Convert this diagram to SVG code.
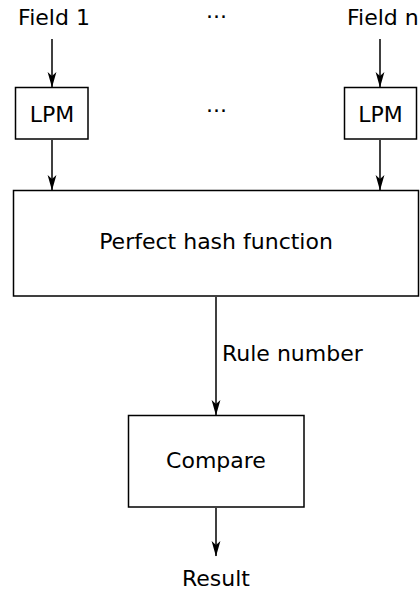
<svg xmlns="http://www.w3.org/2000/svg" width="420" height="591" viewBox="0 0 420 591">
<style>
.box{fill:#fff;stroke:#000;stroke-width:1.5}
.t{font-family:"DejaVu Sans",sans-serif;font-size:22px;fill:#000}
.c{text-anchor:middle}
.ln{stroke:#000;stroke-width:1.5;fill:none;marker-end:url(#ah)}
</style>
<defs>
<marker id="ah" markerWidth="16" markerHeight="10" refX="15" refY="5" orient="auto" markerUnits="userSpaceOnUse">
<path d="M0,0.6 L15.5,5 L0,9.4 L4,5 Z" fill="#000"/>
</marker>
</defs>
<g id="labels">
<text class="t c" x="216.5" y="17.5">...</text>
<text class="t c" x="54" y="25">Field 1</text>
<text class="t" x="347" y="25">Field n</text>
<text class="t c" x="216.5" y="112">...</text>
<text class="t c" x="216" y="586">Result</text>
</g>
<g id="connectors">
<line class="ln" x1="52" y1="39" x2="52" y2="87"/>
<line class="ln" x1="380" y1="39" x2="380" y2="87"/>
<line class="ln" x1="52" y1="140" x2="52" y2="190"/>
<line class="ln" x1="380" y1="140" x2="380" y2="190"/>
<line class="ln" x1="216" y1="297" x2="216" y2="415"/>
<line class="ln" x1="216" y1="508" x2="216" y2="556"/>
<text class="t" x="222" y="361">Rule number</text>
</g>
<g id="lpm1">
<rect class="box" x="15.5" y="87.5" width="72.5" height="51.5"/>
<text class="t c" x="52" y="122">LPM</text>
</g>
<g id="lpmn">
<rect class="box" x="344.5" y="87.5" width="72" height="51.5"/>
<text class="t c" x="380.5" y="122">LPM</text>
</g>
<g id="hash">
<rect class="box" x="13.5" y="190.5" width="405" height="105.5"/>
<text class="t c" x="216" y="249">Perfect hash function</text>
</g>
<g id="compare">
<rect class="box" x="128.5" y="415.5" width="175.5" height="91.5"/>
<text class="t c" x="216" y="468">Compare</text>
</g>
</svg>
